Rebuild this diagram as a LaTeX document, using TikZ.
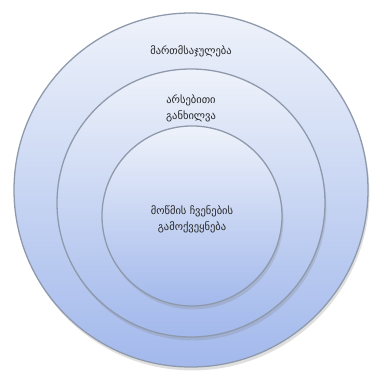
\documentclass[tikz,border=0pt]{standalone}
\usepackage{fontspec}
\newfontfamily\geofont[Script=Georgian]{DejaVu Sans}
\usetikzlibrary{shadows}

\begin{document}
\begin{tikzpicture}[x=1pt,y=1pt,
  ring/.style={circle,draw=cedge,line width=0.45mm,top color=ctop,bottom color=cbot,
               minimum size=#1,inner sep=0pt,
               drop shadow={shadow xshift=0.5mm,shadow yshift=-1.2mm,opacity=0.25}},
  lbl/.style={align=center,font=\geofont\fontsize{10.5}{16}\selectfont,text=black!85},
]
  \definecolor{ctop}{HTML}{EEF2FA}
  \definecolor{cbot}{HTML}{A3B9EC}
  \definecolor{cedge}{HTML}{8E99AC}

  \useasboundingbox[fill=white] (0,0) rectangle (374,374);

  % circles
  \node[ring=354pt] (outer)  at (191,184) {};
  \node[ring=268pt] (middle) at (191,171) {};
  \node[ring=180pt] (inner)  at (192,158) {};

  % labels
  \node[lbl] (justice) at (191,323)   {მართმსაჯულება};
  \node[lbl] (hearing) at (191,266)   {არსებითი\\განხილვა};
  \node[lbl] (witness) at (192,154.5) {მოწმის ჩვენების\\გამოქვეყნება};
\end{tikzpicture}
\end{document}
